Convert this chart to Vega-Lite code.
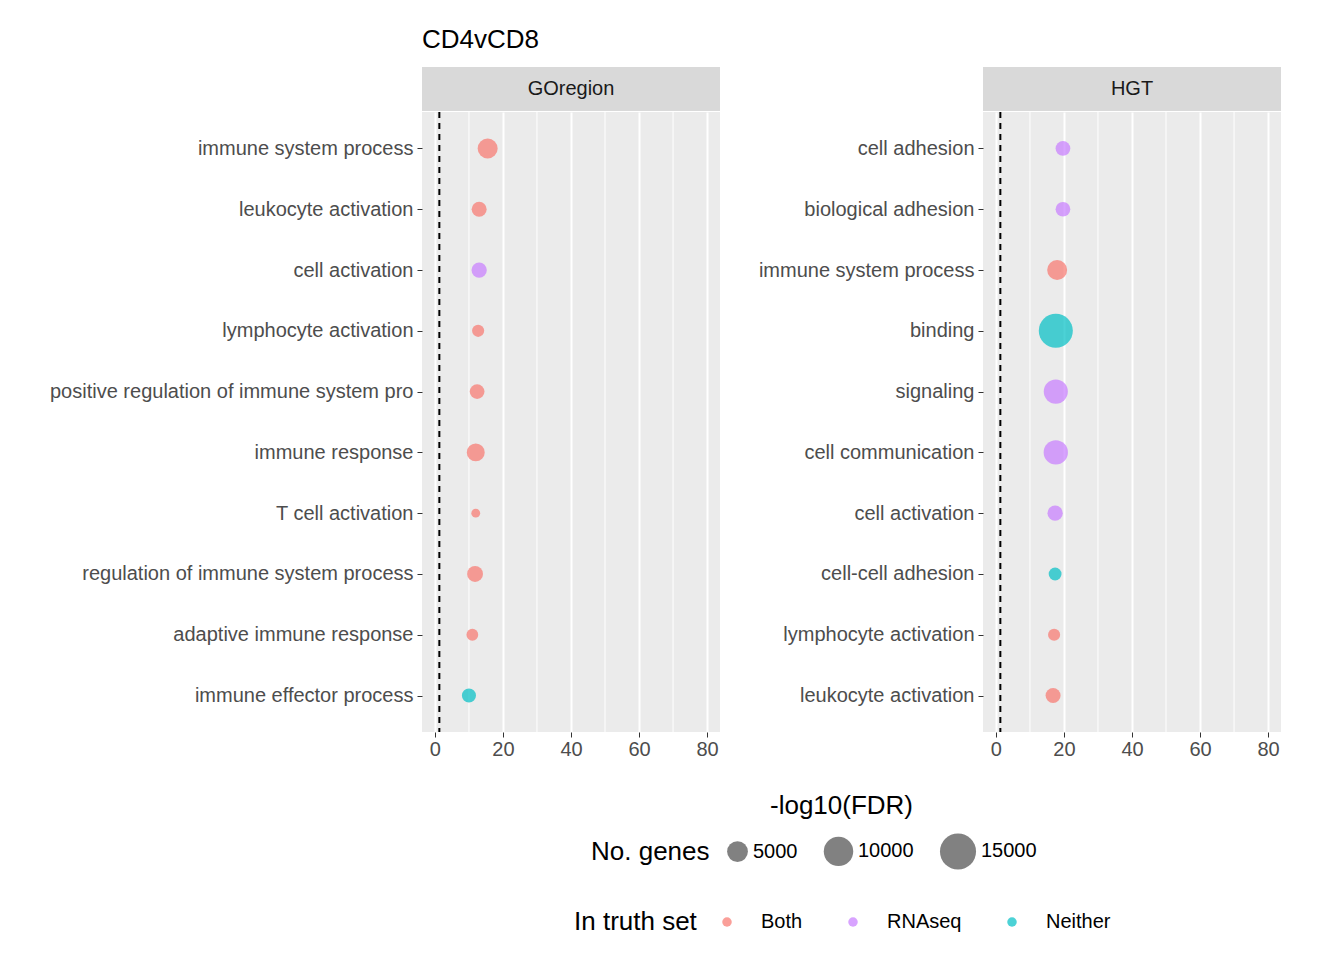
{
  "$schema": "https://vega.github.io/schema/vega-lite/v6.json",
  "padding": {"left": 49, "top": 27, "right": 0, "bottom": 0},
  "background": "white",
  "config": {
    "font": "Liberation Sans",
    "view": {"stroke": null},
    "axis": {"labelFont": "Liberation Sans", "labelFontSize": 20, "labelColor": "#4D4D4D", "tickColor": "#333333", "tickSize": 5, "domain": false, "gridColor": "white", "gridWidth": 2, "labelLimit": 0}
  },
  "datasets": {
    "go": [
      {"panel": "GOregion", "term": "immune system process", "fdr": 15.5, "genes": 4600, "truth": "Both", "order": 1},
      {"panel": "GOregion", "term": "leukocyte activation", "fdr": 13, "genes": 2600, "truth": "Both", "order": 2},
      {"panel": "GOregion", "term": "cell activation", "fdr": 13, "genes": 2700, "truth": "RNAseq", "order": 3},
      {"panel": "GOregion", "term": "lymphocyte activation", "fdr": 12.7, "genes": 1700, "truth": "Both", "order": 4},
      {"panel": "GOregion", "term": "positive regulation of immune system pro", "fdr": 12.4, "genes": 2500, "truth": "Both", "order": 5},
      {"panel": "GOregion", "term": "immune response", "fdr": 12, "genes": 3700, "truth": "Both", "order": 6},
      {"panel": "GOregion", "term": "T cell activation", "fdr": 12, "genes": 900, "truth": "Both", "order": 7},
      {"panel": "GOregion", "term": "regulation of immune system process", "fdr": 11.8, "genes": 2900, "truth": "Both", "order": 8},
      {"panel": "GOregion", "term": "adaptive immune response", "fdr": 11, "genes": 1600, "truth": "Both", "order": 9},
      {"panel": "GOregion", "term": "immune effector process", "fdr": 10, "genes": 2300, "truth": "Neither", "order": 10}
    ],
    "hgt": [
      {"panel": "HGT", "term": "cell adhesion", "fdr": 19.7, "genes": 2500, "truth": "RNAseq", "order": 1},
      {"panel": "HGT", "term": "biological adhesion", "fdr": 19.7, "genes": 2500, "truth": "RNAseq", "order": 2},
      {"panel": "HGT", "term": "immune system process", "fdr": 18, "genes": 4600, "truth": "Both", "order": 3},
      {"panel": "HGT", "term": "binding", "fdr": 17.6, "genes": 13400, "truth": "Neither", "order": 4},
      {"panel": "HGT", "term": "signaling", "fdr": 17.6, "genes": 6700, "truth": "RNAseq", "order": 5},
      {"panel": "HGT", "term": "cell communication", "fdr": 17.6, "genes": 6800, "truth": "RNAseq", "order": 6},
      {"panel": "HGT", "term": "cell activation", "fdr": 17.4, "genes": 2700, "truth": "RNAseq", "order": 7},
      {"panel": "HGT", "term": "cell-cell adhesion", "fdr": 17.4, "genes": 1900, "truth": "Neither", "order": 8},
      {"panel": "HGT", "term": "lymphocyte activation", "fdr": 17.1, "genes": 1700, "truth": "Both", "order": 9},
      {"panel": "HGT", "term": "leukocyte activation", "fdr": 16.8, "genes": 2600, "truth": "Both", "order": 10}
    ],
    "minor": [{"v": 10}, {"v": 30}, {"v": 50}, {"v": 70}]
  },
  "hconcat": [
    {
      "spacing": 0,
      "vconcat": [
        {
          "title": {"text": "CD4vCD8", "anchor": "start", "frame": "bounds", "fontSize": 26, "fontWeight": "normal", "color": "black", "offset": 14},
          "width": 298, "height": 44,
          "view": {"fill": "#D9D9D9", "stroke": null},
          "data": {"values": [{"label": "GOregion"}]},
          "mark": {"type": "text", "fontSize": 20, "color": "#1A1A1A"},
          "encoding": {"text": {"field": "label"}}
        },
        {
          "width": 298, "height": 620,
          "view": {"fill": "#EBEBEB", "stroke": null},
          "layer": [
            {
              "data": {"name": "minor"},
              "mark": {"type": "rule", "color": "white", "strokeWidth": 1},
              "encoding": {"x": {"field": "v", "type": "quantitative"}}
            },
            {
              "data": {"name": "go"},
              "mark": {"type": "circle", "opacity": 0.7},
              "encoding": {
                "x": {"field": "fdr", "type": "quantitative", "scale": {"domain": [-3.8, 83.8], "nice": false, "zero": false}, "axis": {"values": [0, 20, 40, 60, 80], "title": null}},
                "y": {"field": "term", "type": "nominal", "sort": {"field": "order"}, "scale": {"type": "point", "padding": 0.6}, "axis": {"title": null, "labelPadding": 4}},
                "size": {"field": "genes", "type": "quantitative", "scale": {"domain": [0, 15000], "range": [0, 1300]},
                  "legend": {"title": "No. genes", "values": [5000, 10000, 15000], "format": "d", "orient": "none", "legendX": 169, "legendY": 765, "direction": "horizontal", "titleOrient": "left", "titleFontSize": 26, "titleFontWeight": "normal", "titleColor": "black", "labelFontSize": 20, "labelColor": "black", "symbolFillColor": "#1A1A1A", "symbolStrokeColor": "#000000", "symbolOpacity": 0.8, "columnPadding": 22, "titleAnchor": "middle", "titlePadding": 16}},
                "color": {"field": "truth", "type": "nominal", "scale": {"domain": ["Both", "RNAseq", "Neither"], "range": ["#F8766D", "#C77CFF", "#00BFC4"]},
                  "legend": {"title": "In truth set", "orient": "none", "legendX": 152, "legendY": 845, "direction": "horizontal", "titleOrient": "left", "titleFontSize": 26, "titleFontWeight": "normal", "titleColor": "black", "labelFontSize": 20, "labelColor": "black", "symbolSize": 90, "symbolOpacity": 0.7, "columnPadding": 40, "labelOffset": 24, "titlePadding": 20}}
              }
            },
            {
              "data": {"values": [{}]},
              "mark": {"type": "rule", "color": "black", "strokeDash": [6, 5], "strokeWidth": 2},
              "encoding": {"x": {"datum": 1.3}}
            }
          ]
        }
      ]
    },
    {
      "spacing": 0,
      "vconcat": [
        {
          "width": 298, "height": 44,
          "view": {"fill": "#D9D9D9", "stroke": null},
          "data": {"values": [{"label": "HGT"}]},
          "mark": {"type": "text", "fontSize": 20, "color": "#1A1A1A"},
          "encoding": {"text": {"field": "label"}}
        },
        {
          "width": 298, "height": 620,
          "view": {"fill": "#EBEBEB", "stroke": null},
          "layer": [
            {
              "data": {"name": "minor"},
              "mark": {"type": "rule", "color": "white", "strokeWidth": 1},
              "encoding": {"x": {"field": "v", "type": "quantitative"}}
            },
            {
              "data": {"name": "hgt"},
              "mark": {"type": "circle", "opacity": 0.7},
              "encoding": {
                "x": {"field": "fdr", "type": "quantitative", "scale": {"domain": [-3.8, 83.8], "nice": false, "zero": false},
                  "axis": {"values": [0, 20, 40, 60, 80], "title": "-log10(FDR)", "titleFontSize": 26, "titleFontWeight": "normal", "titleColor": "black", "titleX": -142, "titleY": 60, "titleAlign": "center"}},
                "y": {"field": "term", "type": "nominal", "sort": {"field": "order"}, "scale": {"type": "point", "padding": 0.6}, "axis": {"title": null, "labelPadding": 4}},
                "size": {"field": "genes", "type": "quantitative", "scale": {"domain": [0, 15000], "range": [0, 1300]}},
                "color": {"field": "truth", "type": "nominal", "scale": {"domain": ["Both", "RNAseq", "Neither"], "range": ["#F8766D", "#C77CFF", "#00BFC4"]}}
              }
            },
            {
              "data": {"values": [{}]},
              "mark": {"type": "rule", "color": "black", "strokeDash": [6, 5], "strokeWidth": 2},
              "encoding": {"x": {"datum": 1.3}}
            }
          ]
        }
      ]
    }
  ],
  "spacing": 38
}
